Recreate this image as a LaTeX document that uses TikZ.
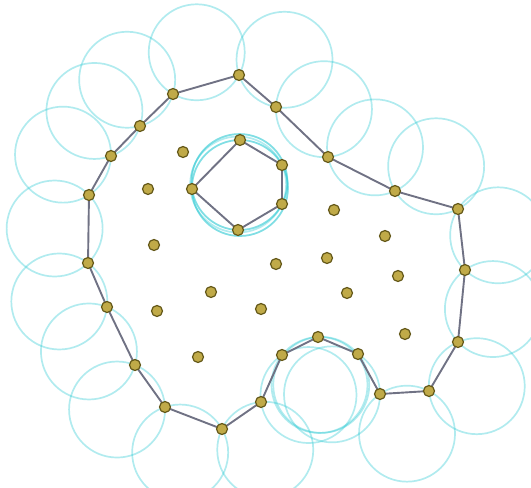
\documentclass[tikz,border=0pt]{standalone}
\usetikzlibrary{calc}
\pgfdeclarelayer{circ}
\pgfdeclarelayer{edges}
\pgfsetlayers{circ,edges,main}
\definecolor{ballc}{RGB}{40,200,210}
\definecolor{edgec}{RGB}{112,114,132}
\definecolor{dotf}{RGB}{192,170,72}
\definecolor{dotd}{RGB}{100,88,25}
\tikzset{
  pt/.style={circle,inner sep=0pt,minimum size=11pt,fill=dotf,draw=dotd,line width=1.2pt},
  ball/.style={draw=ballc,draw opacity=0.36,line width=1.7pt},
  hull/.style={draw=edgec,line width=1.9pt,line join=round},
}
\newcommand\alphaball[2]{%
  \draw[ball] let \p1=(#1), \p2=(#2),
    \n1={veclen(\x2-\x1,\y2-\y1)/2},
    \n2={sqrt(max(48*48-\n1*\n1,0))} in
    ($(#1)!0.5!(#2)!\n2!90:(#2)$) circle[radius=48pt];%
}
\begin{document}
\begin{tikzpicture}[x=1pt,y=-1pt]
\useasboundingbox (0,0) rectangle (531,488);
% outer boundary points
\node[pt] (b1) at (239,75) {};
\node[pt] (b2) at (276,107) {};
\node[pt] (b3) at (328,157) {};
\node[pt] (b4) at (395,191) {};
\node[pt] (b5) at (458,209) {};
\node[pt] (b6) at (465,270) {};
\node[pt] (b7) at (458,342) {};
\node[pt] (b8) at (429,391) {};
\node[pt] (b9) at (380,394) {};
\node[pt] (b10) at (358,354) {};
\node[pt] (b11) at (318,337) {};
\node[pt] (b12) at (282,355) {};
\node[pt] (b13) at (261,402) {};
\node[pt] (b14) at (222,429) {};
\node[pt] (b15) at (165,407) {};
\node[pt] (b16) at (135,365) {};
\node[pt] (b17) at (107,307) {};
\node[pt] (b18) at (88,263) {};
\node[pt] (b19) at (89,195) {};
\node[pt] (b20) at (111,156) {};
\node[pt] (b21) at (140,126) {};
\node[pt] (b22) at (173,94) {};
% hole points
\node[pt] (h1) at (240,140) {};
\node[pt] (h2) at (192,189) {};
\node[pt] (h3) at (238,230) {};
\node[pt] (h4) at (282,204) {};
\node[pt] (h5) at (282,165) {};
% interior points
\node[pt] (i1) at (183,152) {};
\node[pt] (i2) at (148,189) {};
\node[pt] (i3) at (154,245) {};
\node[pt] (i4) at (334,210) {};
\node[pt] (i5) at (385,236) {};
\node[pt] (i6) at (276,264) {};
\node[pt] (i7) at (327,258) {};
\node[pt] (i8) at (398,276) {};
\node[pt] (i9) at (211,292) {};
\node[pt] (i10) at (157,311) {};
\node[pt] (i11) at (261,309) {};
\node[pt] (i12) at (198,357) {};
\node[pt] (i13) at (347,293) {};
\node[pt] (i14) at (405,334) {};
% alpha balls
\begin{pgfonlayer}{circ}
\foreach \a/\b in {b1/b2,b2/b3,b3/b4,b4/b5,b5/b6,b6/b7,b7/b8,b8/b9,b9/b10,b10/b11,b11/b12,b12/b13,b13/b14,b14/b15,b15/b16,b16/b17,b17/b18,b18/b19,b19/b20,b20/b21,b21/b22,b22/b1,h1/h2,h2/h3,h3/h4,h4/h5,h5/h1}{\alphaball{\a}{\b}}
\end{pgfonlayer}
% hull edges
\begin{pgfonlayer}{edges}
\draw[hull] (b1.center) -- (b2.center) -- (b3.center) -- (b4.center) -- (b5.center) -- (b6.center) -- (b7.center) -- (b8.center) -- (b9.center) -- (b10.center) -- (b11.center) -- (b12.center) -- (b13.center) -- (b14.center) -- (b15.center) -- (b16.center) -- (b17.center) -- (b18.center) -- (b19.center) -- (b20.center) -- (b21.center) -- (b22.center) -- cycle;
\draw[hull] (h1.center) -- (h2.center) -- (h3.center) -- (h4.center) -- (h5.center) -- cycle;
\end{pgfonlayer}
\end{tikzpicture}
\end{document}
